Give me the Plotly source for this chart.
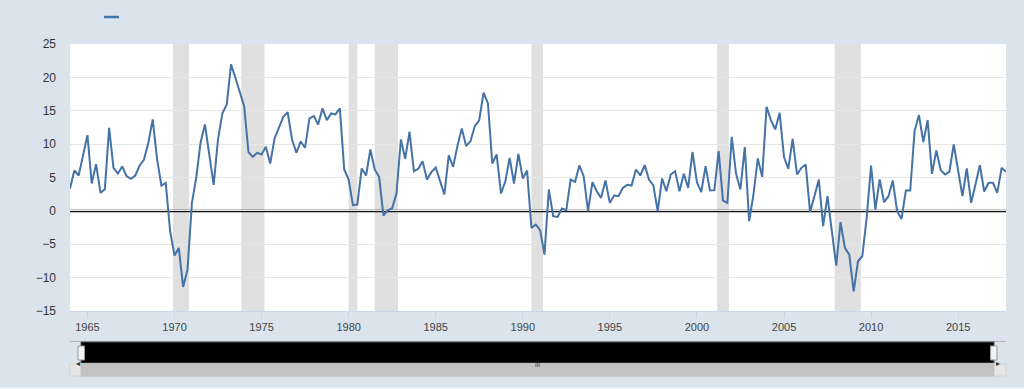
import pandas as pd
import plotly.graph_objects as go

# ---------------- data ----------------
start_date = "1964-01-01"  # first quarter of the series
values = [
    3.35, 6.05, 5.3, 8.45, 11.35, 4.1, 7.0, 2.7, 3.25, 12.45,
    6.45, 5.6, 6.65, 5.2, 4.8, 5.3, 6.8, 7.7, 10.2, 13.7,
    7.7, 3.8, 4.2, -3.05, -6.7, -5.55, -11.4, -8.8, 1.2, 4.95,
    10.2, 12.95, 8.45, 3.9, 10.7, 14.6, 15.95, 21.95, 19.95, 17.7,
    15.7, 8.8, 8.1, 8.7, 8.45, 9.6, 7.1, 10.85, 12.6, 14.1,
    14.8, 10.7, 8.7, 10.4, 9.45, 13.85, 14.2, 12.95, 15.35, 13.6,
    14.6, 14.45, 15.35, 6.2, 4.7, 0.85, 0.95, 6.35, 5.3, 9.2,
    6.2, 5.1, -0.7, 0.1, 0.4, 2.6, 10.7, 7.8, 11.85, 5.95,
    6.3, 7.45, 4.7, 5.8, 6.5, 4.45, 2.45, 8.3, 6.6, 9.7,
    12.35, 9.7, 10.45, 12.7, 13.55, 17.7, 16.1, 7.1, 8.45, 2.6,
    4.45, 7.95, 4.1, 8.55, 4.85, 6.05, -2.55, -2.05, -2.9, -6.55,
    3.2, -0.8, -0.9, 0.35, 0.1, 4.7, 4.35, 6.8, 5.2, -0.05,
    4.3, 2.95, 1.95, 4.55, 1.2, 2.3, 2.2, 3.45, 3.9, 3.8,
    6.2, 5.3, 6.85, 4.7, 3.8, -0.05, 4.85, 2.95, 5.45, 5.95,
    2.95, 5.55, 3.45, 8.85, 4.3, 2.8, 6.7, 3.05, 3.1, 8.95,
    1.55, 1.2, 11.1, 5.55, 3.2, 9.55, -1.55, 2.45, 7.85, 5.1,
    15.6, 13.6, 12.2, 14.7, 8.05, 6.3, 10.8, 5.45, 6.45, 6.95,
    -0.15, 2.2, 4.7, -2.3, 2.2, -3.05, -8.2, -1.7, -5.55, -6.55,
    -12.05, -7.55, -6.8, -1.0, 6.8, 0.2, 4.7, 1.3, 2.2, 4.55,
    -0.05, -1.2, 3.05, 3.05, 11.95, 14.35, 10.3, 13.6, 5.55, 9.05,
    6.1, 5.45, 5.85, 9.95, 5.95, 2.2, 6.35, 1.2, 4.0, 6.85,
    2.9, 4.2, 4.2, 2.7, 6.45, 5.85,
]
recession_starts = ["1969-12-01", "1973-11-01", "1980-01-01", "1981-07-01",
                    "1990-07-01", "2001-03-01", "2007-12-01"]
recession_ends = ["1970-11-01", "1975-03-01", "1980-07-01", "1982-11-01",
                  "1991-03-01", "2001-11-01", "2009-06-01"]
y_ticks = [-15, -10, -5, 0, 5, 10, 15, 20, 25]

dates = pd.date_range(start=start_date, periods=len(values), freq="QS")

# ---------------- styling / layout helpers ----------------
W, H = 1024, 389
ML, MR, MT, MB = 70, 18, 44, 78
PW, PH = W - ML - MR, H - MT - MB
BG = "#dbe3ec"
LINE = "#4572a7"
FONT = "Liberation Sans, Arial, sans-serif"


def px(xp):
    return (xp - ML) / PW


def py(yp):
    return (H - MB - yp) / PH


fig = go.Figure()
fig.add_trace(go.Scatter(x=dates, y=values, mode="lines",
                         line=dict(color=LINE, width=2), hoverinfo="x+y",
                         showlegend=False))

shapes = []
for s, e in zip(recession_starts, recession_ends):
    shapes.append(dict(type="rect", xref="x", yref="paper", x0=s, x1=e,
                       y0=0, y1=1, fillcolor="#e0e0e0", line=dict(width=0),
                       layer="below"))
# zero line (drawn after the shading so it sits on top of it)
shapes.append(dict(type="line", xref="x", yref="y", x0=dates[0], x1=dates[-1],
                   y0=0, y1=0, line=dict(color="#111111", width=2.5),
                   layer="below"))
# legend swatch (no label)
shapes.append(dict(type="line", xref="paper", yref="paper", x0=px(104),
                   x1=px(119), y0=py(17), y1=py(17),
                   line=dict(color=LINE, width=2.5), layer="above"))
# navigator
nav = [
    dict(type="line", x0=px(70), x1=px(1006), y0=py(341.5), y1=py(341.5),
         line=dict(color="#b4b4b4", width=1)),
    dict(type="rect", x0=px(81), x1=px(994), y0=py(363), y1=py(342),
         fillcolor="#000000", line=dict(color="#555555", width=1)),
    dict(type="rect", x0=px(70), x1=px(1006), y0=py(376), y1=py(364),
         fillcolor="#e6e6e6", line=dict(color="#d2d2d2", width=1)),
    dict(type="rect", x0=px(81), x1=px(994), y0=py(376), y1=py(364),
         fillcolor="#c2c2c2", line=dict(color="#c2c2c2", width=1)),
    dict(type="rect", x0=px(78), x1=px(84.5), y0=py(360), y1=py(346),
         fillcolor="#f2f2f2", line=dict(color="#999999", width=1)),
    dict(type="rect", x0=px(990.5), x1=px(997), y0=py(360), y1=py(346),
         fillcolor="#f2f2f2", line=dict(color="#999999", width=1)),
    dict(type="rect", x0=px(0), x1=px(W), y0=py(389), y1=py(387),
         fillcolor="#eef2f6", line=dict(width=0)),
]
for s in nav:
    s.update(xref="paper", yref="paper", layer="above")
shapes += nav

annotations = [
    dict(text="◂", xref="paper", yref="paper", x=px(74), y=py(370),
         showarrow=False, font=dict(size=8, color="#333333", family=FONT)),
    dict(text="▸", xref="paper", yref="paper", x=px(1002), y=py(370),
         showarrow=False, font=dict(size=8, color="#333333", family=FONT)),
    dict(text="III", xref="paper", yref="paper", x=px(537.5), y=py(370),
         showarrow=False, font=dict(size=6, color="#333333", family=FONT)),
]

fig.update_layout(
    width=W, height=H,
    margin=dict(l=ML, r=MR, t=MT, b=MB, pad=0, autoexpand=False),
    paper_bgcolor=BG, plot_bgcolor="#ffffff",
    font=dict(family=FONT, size=11, color="#444444"),
    showlegend=False,
    shapes=shapes, annotations=annotations,
    xaxis=dict(
        type="date", range=[dates[0], dates[-1]],
        tick0="1965-01-01", dtick="M60", tickformat="%Y",
        showgrid=False, zeroline=False,
        showline=True, linecolor="#ccd6eb", linewidth=1,
        ticks="outside", ticklen=6, tickcolor="#ccd6eb",
        tickfont=dict(size=11, color="#444444"),
    ),
    yaxis=dict(
        range=[-15, 25], tickvals=y_ticks,
        showgrid=True, gridcolor="#e6e6e6", gridwidth=1,
        zeroline=False, showline=False, ticks="",
        ticklabelstandoff=13,
        tickfont=dict(size=12, color="#333333"),
    ),
)

fig.write_html(
    "out.html",
    config={"displayModeBar": False},
    post_script="document.body.style.margin='0';"
                "document.body.style.overflow='hidden';",
)
